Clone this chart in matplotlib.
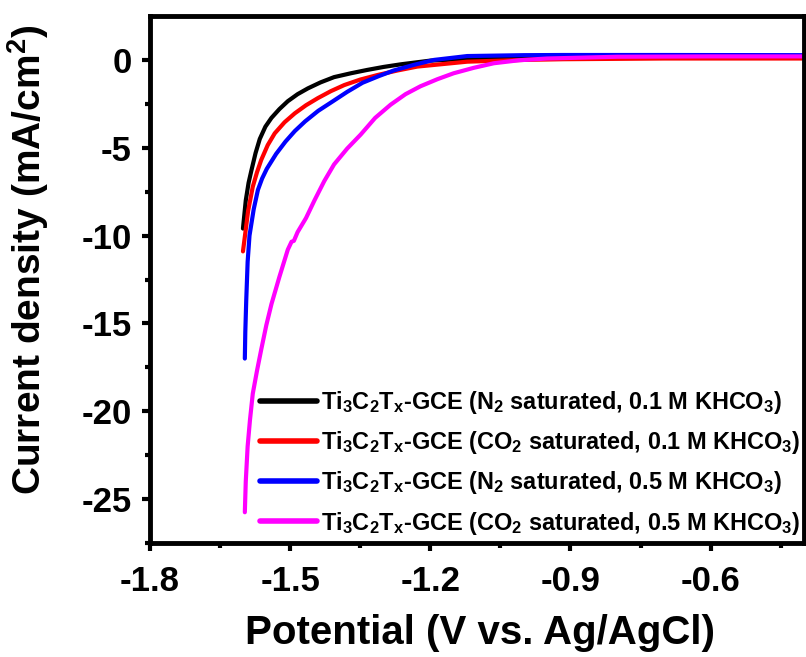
import matplotlib
matplotlib.use('Agg')
import matplotlib.pyplot as plt
import numpy as np

# LSV curves (V vs. Ag/AgCl, mA/cm2)
v_n2_01 = [-1.601, -1.595, -1.589, -1.583, -1.574, -1.565, -1.553, -1.540,
           -1.523, -1.505, -1.484, -1.462, -1.435, -1.406, -1.370, -1.335,
           -1.300, -1.263, -1.200, -1.100, -1.000, -0.800, -0.600, -0.400]
j_n2_01 = [-9.6, -8.0, -7.0, -6.3, -5.3, -4.5, -3.8, -3.3,
           -2.8, -2.35, -1.95, -1.62, -1.28, -0.98, -0.76, -0.57,
           -0.40, -0.25, -0.04, 0.08, 0.14, 0.17, 0.18, 0.18]

v_co2_01 = [-1.601, -1.597, -1.590, -1.580, -1.571, -1.562, -1.548, -1.533,
            -1.512, -1.490, -1.466, -1.441, -1.413, -1.384, -1.350, -1.313,
            -1.270, -1.228, -1.121, -1.000, -0.915, -0.700, -0.400]
j_co2_01 = [-10.9, -10.07, -8.6, -7.22, -6.4, -5.7, -4.85, -4.18,
            -3.55, -3.04, -2.58, -2.18, -1.78, -1.43, -1.12, -0.86,
            -0.6, -0.38, -0.10, 0.0, 0.04, 0.08, 0.08]

v_n2_05 = [-1.597, -1.596, -1.594, -1.591, -1.587, -1.578, -1.569, -1.560,
           -1.550, -1.530, -1.510, -1.490, -1.468, -1.440, -1.410, -1.378,
           -1.345, -1.310, -1.278, -1.235, -1.192, -1.121, -1.000, -0.915,
           -0.700, -0.400]
j_n2_05 = [-17.0, -15.5, -13.7, -11.5, -10.0, -8.5, -7.4, -6.75,
           -6.2, -5.35, -4.65, -4.05, -3.5, -2.9, -2.38, -1.82,
           -1.3, -0.92, -0.6, -0.28, 0.0, 0.22, 0.27, 0.28,
           0.28, 0.27]

v_co2_05 = [-1.597, -1.595, -1.591, -1.586, -1.580, -1.571, -1.562, -1.551,
            -1.540, -1.523, -1.505, -1.497, -1.492, -1.484, -1.466, -1.448,
            -1.427, -1.406, -1.378, -1.349, -1.318, -1.285, -1.253, -1.221,
            -1.185, -1.150, -1.107, -1.064, -1.010, -0.950, -0.800, -0.600,
            -0.400]
j_co2_05 = [-25.75, -24.0, -22.0, -20.5, -19.0, -17.7, -16.5, -15.1,
            -13.9, -12.35, -10.8, -10.35, -10.3, -9.8, -9.0, -8.0,
            -6.9, -5.95, -5.05, -4.25, -3.3, -2.55, -1.95, -1.5,
            -1.1, -0.76, -0.45, -0.19, -0.02, 0.08, 0.18, 0.2,
            0.2]

labels = [
    'Ti$_3$C$_2$T$_x$-GCE (N$_2$ saturated, 0.1 M KHCO$_3$)',
    'Ti$_3$C$_2$T$_x$-GCE (CO$_2$ saturated, 0.1 M KHCO$_3$)',
    'Ti$_3$C$_2$T$_x$-GCE (N$_2$ saturated, 0.5 M KHCO$_3$)',
    'Ti$_3$C$_2$T$_x$-GCE (CO$_2$ saturated, 0.5 M KHCO$_3$)',
]
colors = ['#000000', '#ff0000', '#0000ff', '#ff00ff']

x_ticks = [-1.8, -1.5, -1.2, -0.9, -0.6]
y_ticks = [0, -5, -10, -15, -20, -25]

plt.rcParams['font.family'] = ['Liberation Sans', 'DejaVu Sans']
plt.rcParams['font.weight'] = 'bold'
plt.rcParams['mathtext.fontset'] = 'custom'
plt.rcParams['mathtext.rm'] = 'Liberation Sans:bold'
plt.rcParams['mathtext.bf'] = 'Liberation Sans:bold'
plt.rcParams['mathtext.it'] = 'Liberation Sans:bold'
plt.rcParams['mathtext.default'] = 'bf'

fig = plt.figure(figsize=(8.06, 6.57), dpi=100)
ax = fig.add_axes([150 / 806, 114 / 657, 654 / 806, 527 / 657])

series = [(v_n2_01, j_n2_01), (v_co2_01, j_co2_01),
          (v_n2_05, j_n2_05), (v_co2_05, j_co2_05)]
for (v, j), c, lab in zip(series, colors, labels):
    ax.plot(v, j, color=c, lw=3, label=lab, solid_capstyle='round',
            solid_joinstyle='round')

ax.set_xlim(-1.8, -0.4)
ax.set_ylim(-27.5, 2.5)
ax.set_xticks(x_ticks)
ax.set_xticklabels([f'{t:.1f}' for t in x_ticks])
ax.set_yticks(y_ticks)
ax.set_yticklabels([str(t) for t in y_ticks])
ax.set_xticks(np.array(x_ticks) + 0.15, minor=True)
ax.set_yticks(np.array(y_ticks) - 2.5, minor=True)

for s in ax.spines.values():
    s.set_linewidth(3.5)
ax.tick_params(which='major', direction='out', length=6, width=3,
               labelsize=25, pad=7)
ax.tick_params(axis='x', which='major', pad=10)
ax.tick_params(which='minor', direction='out', length=3.5, width=3)
for lab in ax.get_xticklabels() + ax.get_yticklabels():
    lab.set_fontweight('bold')

ax.set_xlabel('Potential (V vs. Ag/AgCl)', fontsize=29, fontweight='bold')
ax.set_ylabel('Current density (mA/cm$^2$)', fontsize=28, fontweight='bold')
ax.xaxis.set_label_coords(0.504, -0.135)
ax.yaxis.set_label_coords(-0.152, 0.537)

leg = ax.legend(loc='upper left', bbox_to_anchor=(0.168, 0.292),
                frameon=False, fontsize=16.9, handlelength=2.45,
                handletextpad=0.17, labelspacing=0.56, borderpad=0,
                borderaxespad=0)
for line in leg.get_lines():
    line.set_linewidth(4)
for t in leg.get_texts():
    t.set_fontweight('bold')

fig.savefig('out.png', dpi=100)
